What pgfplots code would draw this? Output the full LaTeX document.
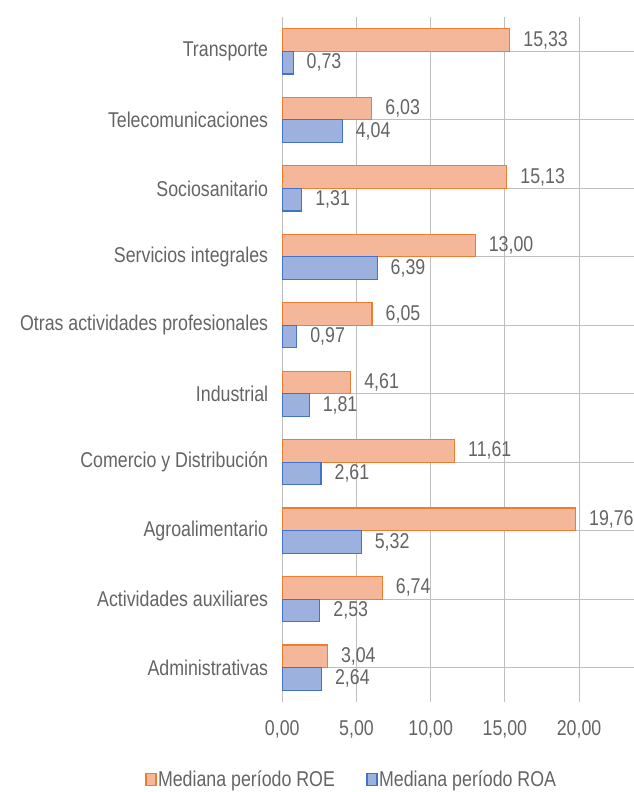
\documentclass[border=0pt]{standalone}
\usepackage{fontspec}
\setmainfont[FakeStretch=0.83]{Liberation Sans}
\usepackage{pgfplots}
\pgfplotsset{compat=1.18}

\definecolor{txt}{HTML}{646464}
\definecolor{grid}{HTML}{D9D9D9}
\definecolor{orline}{HTML}{ED7D31}
\definecolor{orfill}{HTML}{F5B799}
\definecolor{blline}{HTML}{4472C4}
\definecolor{blfill}{HTML}{9DB1DF}

\newcommand{\lblfont}{\fontsize{21.5}{25}\selectfont}

\begin{document}
\begin{tikzpicture}
\useasboundingbox (0,0) rectangle (634bp,792bp);
\begin{axis}[
  at={(282.3bp,90.2bp)}, anchor=south west,
  scale only axis, width=351.7bp, height=684.6bp,
  xmin=0, xmax=23.7, ymin=-0.5, ymax=9.5,
  axis line style={draw=none},
  xbar, bar width=0.33,
  xtick={0,5,...,20}, ytick={0,...,9},
  major tick length=0pt,
  xmajorgrids, grid style={grid, line width=0.9bp},
  yticklabels={Administrativas, Actividades auxiliares, Agroalimentario,
    Comercio y Distribución\hspace{5bp}, Industrial, Otras actividades profesionales,
    Servicios integrales, Sociosanitario, Telecomunicaciones, Transporte},
  /pgf/number format/.cd, fixed, fixed zerofill, precision=2, use comma, assume math mode=true,
  /pgfplots/.cd,
  ticklabel style={font=\lblfont, text=txt, inner sep=0pt},
  yticklabel style={xshift=-14bp},
  xticklabel style={yshift=-19bp},
  nodes near coords={\pgfmathprintnumber[fixed,fixed zerofill,precision=2,use comma,assume math mode=true]{\pgfplotspointmeta}},
  every node near coord/.append style={font=\lblfont, text=txt, anchor=west, inner sep=0pt, xshift=13bp},
  clip=false,
  legend style={at={(-0.390,-0.114)}, anchor=west, draw=none, fill=none,
    inner sep=0pt, legend columns=2, font=\lblfont, text=txt,
    nodes={inner sep=1.5bp},
    /tikz/every odd column/.append style={column sep=0bp},
    /tikz/every even column/.append style={column sep=30bp}},
  legend image code/.code={\draw[#1] (0bp,-6bp) rectangle (10bp,6bp);},
]
\addplot[bar shift=0.165, fill=orfill, draw=orline, line width=1.2bp]
  coordinates {(3.04,0) (6.74,1) (19.76,2) (11.61,3) (4.61,4) (6.05,5) (13.00,6) (15.13,7) (6.03,8) (15.33,9)};
\addplot[bar shift=-0.165, fill=blfill, draw=blline, line width=1.2bp]
  coordinates {(2.64,0) (2.53,1) (5.32,2) (2.61,3) (1.81,4) (0.97,5) (6.39,6) (1.31,7) (4.04,8) (0.73,9)};
\legend{Mediana período ROE, Mediana período ROA}
\end{axis}
\end{tikzpicture}
\end{document}
